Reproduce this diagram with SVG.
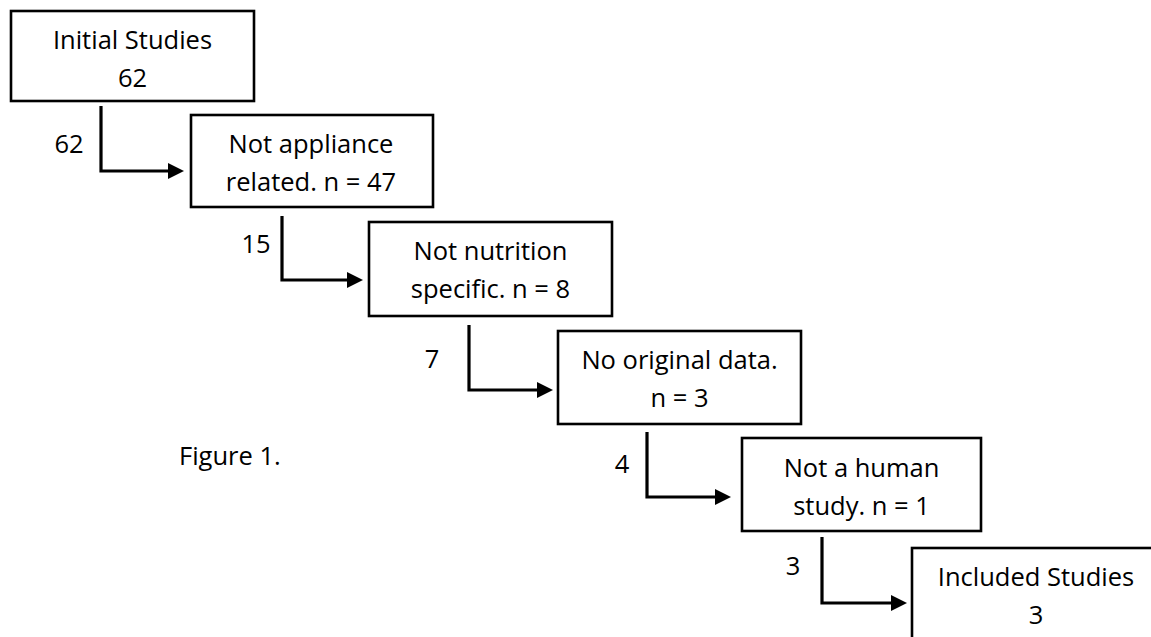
<svg xmlns="http://www.w3.org/2000/svg" width="1151" height="637" viewBox="0 0 1151 637">
<style>
.box{fill:#fff;stroke:#000;stroke-width:2.6}
.t{font-family:"Open Sans","Liberation Sans",sans-serif;font-size:25.5px;fill:#000;text-anchor:middle}
.lab{font-family:"Open Sans","Liberation Sans",sans-serif;font-size:25.5px;fill:#000}
.conn{fill:none;stroke:#000;stroke-width:3.2;stroke-linejoin:miter}
</style>
<defs>
<marker id="arr" markerUnits="userSpaceOnUse" markerWidth="16" markerHeight="16" refX="2" refY="8" orient="auto">
<path d="M0,0 L16,8 L0,16 z" fill="#000"/>
</marker>
</defs>
<rect width="1151" height="637" fill="#fff"/>
<g id="connectors">
<path class="conn" d="M101,106 V171 H170" marker-end="url(#arr)"/>
<path class="conn" d="M282,216 V280 H349" marker-end="url(#arr)"/>
<path class="conn" d="M469,325 V390 H539" marker-end="url(#arr)"/>
<path class="conn" d="M647,432 V497 H717" marker-end="url(#arr)"/>
<path class="conn" d="M822,537 V603 H893" marker-end="url(#arr)"/>
<text class="lab" x="69" y="153" text-anchor="middle">62</text>
<text class="lab" x="256" y="253" text-anchor="middle">15</text>
<text class="lab" x="432" y="368" text-anchor="middle">7</text>
<text class="lab" x="622" y="473" text-anchor="middle">4</text>
<text class="lab" x="793" y="575" text-anchor="middle">3</text>
</g>
<g id="n1">
<rect class="box" x="11" y="11" width="243" height="90"/>
<text class="t" x="132.5" y="49">Initial Studies</text>
<text class="t" x="132.5" y="87">62</text>
</g>
<g id="n2">
<rect class="box" x="191" y="115" width="242" height="92"/>
<text class="t" x="311" y="153">Not appliance</text>
<text class="t" x="311" y="191">related. n = 47</text>
</g>
<g id="n3">
<rect class="box" x="369" y="222" width="243" height="94"/>
<text class="t" x="490.5" y="260">Not nutrition</text>
<text class="t" x="490.5" y="298">specific. n = 8</text>
</g>
<g id="n4">
<rect class="box" x="558" y="331" width="243" height="93"/>
<text class="t" x="679.5" y="369">No original data.</text>
<text class="t" x="679.5" y="407">n = 3</text>
</g>
<g id="n5">
<rect class="box" x="742" y="438" width="239" height="93"/>
<text class="t" x="861.5" y="477">Not a human</text>
<text class="t" x="861.5" y="515">study. n = 1</text>
</g>
<g id="n6">
<rect class="box" x="912" y="548" width="243" height="93"/>
<text class="t" x="1036" y="586">Included Studies</text>
<text class="t" x="1036" y="624">3</text>
</g>
<g id="caption">
<text class="lab" x="179" y="465">Figure 1.</text>
</g>
</svg>
